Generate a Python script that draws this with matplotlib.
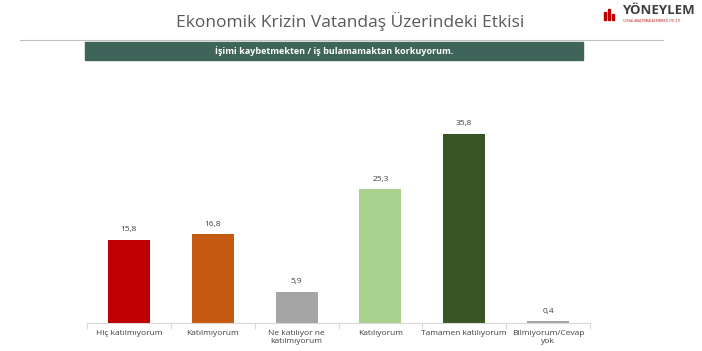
import matplotlib.pyplot as plt
from matplotlib.patches import Rectangle

categories = ["Hiç katılmıyorum", "Katılmıyorum", "Ne katılıyor ne\nkatılmıyorum",
              "Katılıyorum", "Tamamen katılıyorum", "Bilmiyorum/Cevap\nyok"]
values = [15.8, 16.8, 5.9, 25.3, 35.8, 0.4]
colors = ["#C00000", "#C55A11", "#A5A5A5", "#A9D18E", "#375623", "#A5A5A5"]
value_labels = ["15,8", "16,8", "5,9", "25,3", "35,8", "0,4"]

title = "Ekonomik Krizin Vatandaş Üzerindeki Etkisi"
question = "İşimi kaybetmekten / iş bulamamaktan korkuyorum."

W, H = 702, 351
fig = plt.figure(figsize=(W / 100, H / 100), dpi=100)
fig.patch.set_facecolor("white")

# chart area in pixels: x 87..590, y 100..323
ax = fig.add_axes([87 / W, (H - 323) / H, (590 - 87) / W, (323 - 100) / H])
x = range(len(values))
ax.bar(x, values, width=0.5, color=colors)
ax.set_xlim(-0.5, len(values) - 0.5)
ax.set_ylim(0, 42.2)
for i, v in enumerate(values):
    ax.text(i, v + 1.2, value_labels[i], ha="center", va="bottom",
            fontsize=6, color="#404040", family="Open Sans")

for s in ["top", "right", "left"]:
    ax.spines[s].set_visible(False)
ax.spines["bottom"].set_color("#D9D9D9")
ax.set_yticks([])
ax.set_xticks([i - 0.5 for i in range(len(values) + 1)])
ax.set_xticklabels([])
ax.tick_params(axis="x", length=4, color="#D9D9D9")
for i, c in enumerate(categories):
    ax.text(i, -1.3, c, ha="center", va="top", fontsize=6, color="#404040",
            family="Open Sans", linespacing=1.3)

# title
fig.text(350 / W, 1 - 22 / H, title, ha="center", va="center",
         fontsize=12.5, color="#595959", family="Open Sans")
# thin rule under title
fig.add_artist(plt.Line2D([20 / W, 663 / W], [1 - 40 / H, 1 - 40 / H],
                          color="#BFBFBF", lw=0.8))
# question banner
fig.add_artist(Rectangle((85 / W, 1 - 60 / H), (583 - 85) / W, 18 / H,
                         color="#3F6459", transform=fig.transFigure))
fig.text(334 / W, 1 - 51 / H, question, ha="center", va="center",
         fontsize=6.5, color="white", fontweight="bold", family="Open Sans")

# logo
fig.text(622 / W, 1 - 11 / H, "YÖNEYLEM", ha="left", va="center",
         fontsize=9.5, color="#404040", fontweight="bold", family="Open Sans")
fig.text(623 / W, 1 - 21 / H, "SOSYAL ARAŞTIRMALAR MERKEZİ LTD. ŞTİ.", ha="left",
         va="center", fontsize=2.2, color="#C00000", family="Open Sans")
fig.add_artist(Rectangle((604 / W, 1 - 20 / H), 2 / W, 8 / H, color="#C00000",
                         transform=fig.transFigure))
fig.add_artist(Rectangle((608 / W, 1 - 20 / H), 2 / W, 11 / H, color="#C00000",
                         transform=fig.transFigure))
fig.add_artist(Rectangle((612 / W, 1 - 20 / H), 2 / W, 6 / H, color="#C00000",
                         transform=fig.transFigure))

fig.savefig("out.png", dpi=100)
